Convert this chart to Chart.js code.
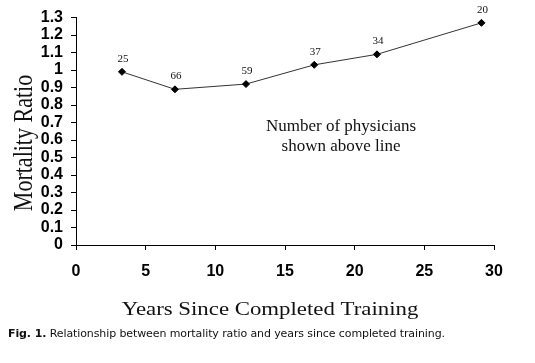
<!DOCTYPE html>
<html>
<head>
<meta charset="utf-8">
<script src="https://cdn.jsdelivr.net/npm/chart.js@4/dist/chart.umd.min.js"></script>
<style>
  html, body { margin: 0; padding: 0; background: #fff; }
  #wrap { position: relative; width: 535px; height: 363px; }
  #box { position: absolute; left: 0; top: 0; width: 535px; height: 363px; }
  #caption {
    position: absolute; left: 8px; top: 327px;
    font: 11px "DejaVu Sans", Verdana, sans-serif; color: #111; white-space: nowrap;
    letter-spacing: -0.1px;
  }
</style>
</head>
<body>
<div id="wrap">
  <div id="box"><canvas id="chart"></canvas></div>
  <div id="caption"><b>Fig. 1.</b> Relationship between mortality ratio and years since completed training.</div>
</div>
<script>
const years = [3.3, 7.1, 12.2, 17.1, 21.6, 29.1];
const ratios = [0.99, 0.89, 0.92, 1.03, 1.09, 1.27];
const physicians = [25, 66, 59, 37, 34, 20];
const xTitle = "Years Since Completed Training";
const yTitle = "Mortality Ratio";
const noteLines = ["Number of physicians", "shown above line"];

// text drawn on top: counts over points, axis titles, note
const textPlugin = {
  id: "texts",
  afterDraw(chart) {
    const ctx = chart.ctx;
    ctx.save();
    ctx.fillStyle = "#111";
    ctx.textAlign = "center";
    ctx.textBaseline = "middle";

    ctx.font = '11px "Liberation Serif", serif';
    chart.getDatasetMeta(0).data.forEach((pt, i) => {
      ctx.fillText(String(physicians[i]), pt.x + 1, pt.y - 13);
    });

    ctx.font = '17px "Liberation Serif", serif';
    ctx.fillText(noteLines[0], 341, 127);
    ctx.fillText(noteLines[1], 341, 147);

    // the axis titles look stretched across in the original
    ctx.textBaseline = "alphabetic";
    ctx.save();
    ctx.font = '19.5px "Liberation Serif", serif';
    ctx.translate(270, 315);
    ctx.scale(1.17, 1);
    ctx.fillText(xTitle, 0, 0);
    ctx.restore();

    ctx.save();
    ctx.font = '22px "Liberation Serif", serif';
    ctx.translate(32, 143);
    ctx.rotate(-Math.PI / 2);
    ctx.scale(1, 1.25);
    ctx.fillText(yTitle, 0, 0);
    ctx.restore();

    ctx.restore();
  }
};

new Chart(document.getElementById("chart"), {
  type: "scatter",
  data: {
    datasets: [{
      data: years.map((x, i) => ({ x, y: ratios[i] })),
      showLine: true,
      borderColor: "#333",
      borderWidth: 1,
      pointStyle: "rectRot",
      pointRadius: 3.5,
      pointBackgroundColor: "#000",
      pointBorderColor: "#000"
    }]
  },
  options: {
    responsive: true,
    maintainAspectRatio: false,
    animation: false,
    layout: { padding: { left: 0, right: 41, top: 12, bottom: 0 } },
    plugins: { legend: { display: false }, tooltip: { enabled: false } },
    scales: {
      x: {
        type: "linear",
        min: 0,
        max: 30,
        afterFit: s => { s.height = 118; },
        ticks: {
          stepSize: 5,
          color: "#000",
          padding: 12,
          font: { family: '"Liberation Sans", Arial', size: 16, weight: "bold" }
        },
        grid: { drawOnChartArea: false, tickLength: 5, color: "#000" },
        border: { color: "#000", width: 1 }
      },
      y: {
        min: 0,
        max: 1.3,
        afterFit: s => { s.width = 76; },
        ticks: {
          stepSize: 0.1,
          autoSkip: false,
          color: "#000",
          padding: 8,
          callback: v => String(Number(v.toFixed(1))),
          font: { family: '"Liberation Sans", Arial', size: 16, weight: "bold" }
        },
        grid: { drawOnChartArea: false, tickLength: 5, color: "#000" },
        border: { color: "#000", width: 1 }
      }
    }
  },
  plugins: [textPlugin]
});
</script>
</body>
</html>
